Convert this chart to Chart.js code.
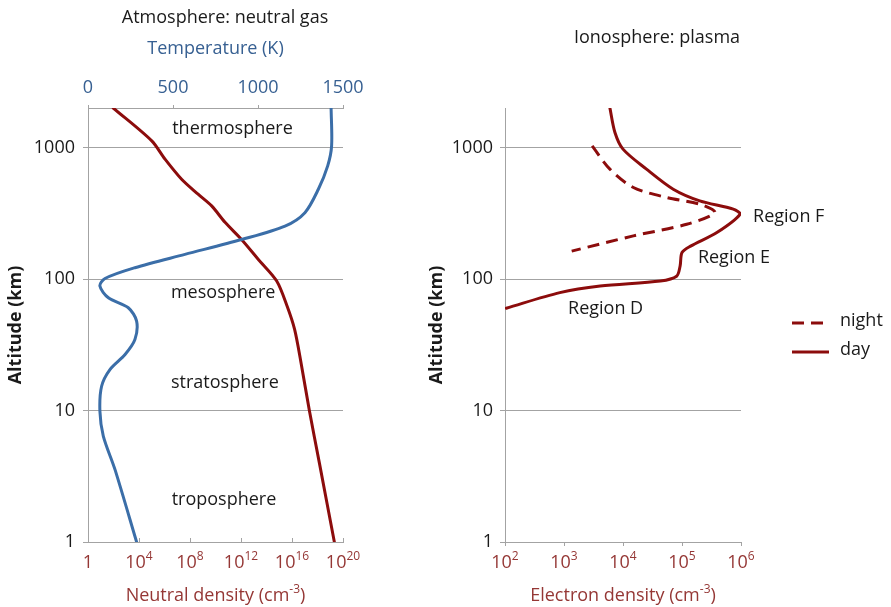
<!DOCTYPE html>
<html>
<head>
<meta charset="utf-8">
<title>Atmosphere and ionosphere profiles</title>
<script src="https://cdn.jsdelivr.net/npm/chart.js@4.4.0/dist/chart.umd.min.js"></script>
<style>
  html, body { margin: 0; padding: 0; background: #ffffff; }
  #wrap { position: relative; width: 891px; height: 607px; overflow: hidden; }
  canvas { position: absolute; top: 0; }
  #atmo { left: 0; }
  #iono { left: 420px; }
</style>
</head>
<body>
<div id="wrap">
  <canvas id="atmo" width="420" height="607"></canvas>
  <canvas id="iono" width="471" height="607"></canvas>
</div>
<script>
// ---- data ----
const altitudeTicks = [1, 10, 100, 1000];
const temperatureTicks = [0, 500, 1000, 1500];
const densityTicks = [1, 1e4, 1e8, 1e12, 1e16, 1e20];
const electronTicks = [1e2, 1e3, 1e4, 1e5, 1e6];

// temperature profile (K) vs altitude (km)
const tempAltitude = [2000, 1030, 726, 482, 320, 253, 200, 154, 122, 101, 88.5, 72, 60.5, 47.9, 34.7, 26.7, 20.5, 15.3, 9.9, 6.4, 3.55, 1];
const temperature  = [1430, 1433, 1410, 1355, 1276, 1159, 904, 570, 276, 100, 70, 120, 237, 286, 276, 218, 129, 80, 70, 90, 159, 286];

// neutral density (cm^-3) vs altitude (km)
const neutralAltitude = [2000, 1125, 816, 574, 442, 360, 270, 200, 141, 96.6, 62.3, 41.4, 23.1, 10, 4.0, 1];
const neutralDensity  = [9.5e1, 1.0e5, 1.1e6, 2.2e7, 4.3e8, 5.0e9, 5.6e10, 1.1e12, 2.3e13, 6.3e14, 4.1e15, 1.6e16, 5.1e16, 2.3e17, 1.4e18, 2.1e19];

// electron density (cm^-3) vs altitude (km), day and night
const dayAltitude = [2000, 1303, 973, 685, 482, 393, 340, 311, 226, 178, 159, 126, 105, 96.6, 88.5, 78.8, 60];
const dayDensity  = [6.0e3, 7.3e3, 1.0e4, 2.5e4, 7.1e4, 2.0e5, 7.4e5, 9.6e5, 3.9e5, 1.4e5, 1.0e5, 9.3e4, 8.1e4, 4.3e4, 4.1e3, 8.5e2, 1.05e2];
const nightAltitude = [1030, 685, 497, 417, 371, 320, 261, 213, 163];
const nightDensity  = [3.0e3, 6.0e3, 1.5e4, 5.5e4, 2.0e5, 3.6e5, 1.2e5, 1.5e4, 1.35e3];

const layerNames  = ['thermosphere', 'mesosphere', 'stratosphere', 'troposphere'];
const regionNames = ['Region F', 'Region E', 'Region D'];

// ---- style ----
const FONT = "'Open Sans', sans-serif";
const SIZE = 18;
const RED = '#8c0c0c';
const BLUE = '#3b6ea8';
const RED_TEXT = '#953735';
const BLUE_TEXT = '#376092';
const GRID = '#a3a3a3';
const INK = '#1a1a1a';

const points = (alts, vals) => alts.map((a, i) => ({ x: vals[i], y: a }));

function drawSupText(ctx, cx, cy, base, sup, tail, color) {
  const mainFont = `${SIZE}px ${FONT}`;
  const supFont = `${Math.round(SIZE * 0.66)}px ${FONT}`;
  ctx.font = mainFont;
  const wb = ctx.measureText(base).width;
  const wt = tail ? ctx.measureText(tail).width : 0;
  ctx.font = supFont;
  const ws = sup ? ctx.measureText(sup).width : 0;
  let x = cx - (wb + ws + wt) / 2;
  ctx.fillStyle = color;
  ctx.textAlign = 'left';
  ctx.textBaseline = 'middle';
  ctx.font = mainFont;
  ctx.fillText(base, x, cy);
  x += wb;
  if (sup) {
    ctx.font = supFont;
    ctx.fillText(sup, x, cy - SIZE * 0.36);
    x += ws;
    ctx.font = mainFont;
  }
  if (tail) ctx.fillText(tail, x, cy);
}

// power-of-ten labels and title under the logarithmic density axis
const powerAxis = {
  id: 'powerAxis',
  afterDraw(chart, args, o) {
    const s = chart.scales.x;
    const ctx = chart.ctx;
    ctx.save();
    s.ticks.forEach(t => {
      const px = s.getPixelForValue(t.value);
      const e = Math.round(Math.log10(t.value));
      if (e === 0) drawSupText(ctx, px, o.labelY, '1', '', '', o.color);
      else drawSupText(ctx, px, o.labelY, '10', String(e), '', o.color);
      if (o.innerTicks) {
        ctx.strokeStyle = GRID;
        ctx.lineWidth = 1;
        ctx.beginPath();
        ctx.moveTo(Math.round(px) + 0.5, s.top);
        ctx.lineTo(Math.round(px) + 0.5, s.top - 4);
        ctx.stroke();
      }
    });
    const c = (chart.chartArea.left + chart.chartArea.right) / 2;
    drawSupText(ctx, c, o.titleY, o.title, '-3', ')', o.color);
    ctx.restore();
  }
};

// free text: chart titles, layer / region names, legend
const notes = {
  id: 'notes',
  afterDatasetsDraw(chart, args, o) {
    const ctx = chart.ctx;
    ctx.save();
    ctx.font = `${SIZE}px ${FONT}`;
    ctx.fillStyle = INK;
    ctx.textBaseline = 'middle';
    if (o.title) {
      ctx.textAlign = 'center';
      ctx.fillText(o.title.text, o.title.x, o.title.y);
    }
    (o.labels || []).forEach(l => {
      const xs = chart.scales[l.xAxis];
      const ys = chart.scales.y;
      ctx.textAlign = l.align;
      ctx.fillText(l.text, xs.getPixelForValue(l.x), ys.getPixelForValue(l.y));
    });
    if (o.legend) {
      const L = o.legend;
      chart.data.datasets.forEach((ds, i) => {
        const y = L.y + i * L.step;
        ctx.strokeStyle = ds.borderColor;
        ctx.lineWidth = ds.borderWidth;
        ctx.setLineDash(ds.borderDash || []);
        ctx.lineCap = 'butt';
        ctx.beginPath();
        ctx.moveTo(L.x, y + 2);
        ctx.lineTo(L.x + L.len, y + 2);
        ctx.stroke();
        ctx.setLineDash([]);
        ctx.textAlign = 'left';
        ctx.fillStyle = INK;
        ctx.fillText(ds.label, L.x + L.len + 11, y);
      });
    }
    ctx.restore();
  }
};

function altitudeAxis(width, labelPad, titlePad) {
  return {
    type: 'logarithmic',
    position: 'left',
    min: 1,
    max: 2000,
    afterBuildTicks: s => { s.ticks = altitudeTicks.map(v => ({ value: v })); },
    afterFit: s => { s.width = width; },
    ticks: {
      callback: v => String(v),
      color: INK,
      font: { family: FONT, size: SIZE },
      padding: labelPad
    },
    grid: { color: GRID, lineWidth: 1, tickLength: 5 },
    border: { color: GRID, width: 1 },
    title: {
      display: true,
      text: 'Altitude (km)',
      color: INK,
      font: { family: FONT, size: SIZE, weight: 'bold' },
      padding: { top: titlePad, bottom: 0 }
    }
  };
}

const lineStyle = { borderWidth: 3, pointRadius: 0, tension: 0.3, fill: false };

// ---- neutral atmosphere ----
new Chart(document.getElementById('atmo'), {
  type: 'line',
  data: {
    datasets: [
      Object.assign({
        label: 'Temperature',
        data: points(tempAltitude, temperature),
        xAxisID: 'x2', yAxisID: 'y',
        borderColor: BLUE, borderCapStyle: 'round'
      }, lineStyle),
      Object.assign({
        label: 'Neutral density',
        data: points(neutralAltitude, neutralDensity),
        xAxisID: 'x', yAxisID: 'y',
        borderColor: RED, borderCapStyle: 'round'
      }, lineStyle)
    ]
  },
  options: {
    responsive: false,
    animation: false,
    layout: { padding: { top: 0, right: 77, bottom: 0, left: 0 } },
    plugins: {
      legend: { display: false },
      tooltip: { enabled: false },
      powerAxis: { labelY: 563, titleY: 596, title: 'Neutral density (cm', color: RED_TEXT, innerTicks: true },
      notes: {
        title: { text: 'Atmosphere: neutral gas', x: 225, y: 18 },
        labels: [
          { text: layerNames[0], xAxis: 'x2', x: 850, y: 1380, align: 'center' },
          { text: layerNames[1], xAxis: 'x2', x: 795, y: 79, align: 'center' },
          { text: layerNames[2], xAxis: 'x2', x: 805, y: 16.3, align: 'center' },
          { text: layerNames[3], xAxis: 'x2', x: 800, y: 2.1, align: 'center' }
        ]
      }
    },
    scales: {
      x: {
        type: 'logarithmic',
        position: 'bottom',
        min: 1,
        max: 1e20,
        afterBuildTicks: s => { s.ticks = densityTicks.map(v => ({ value: v })); },
        afterFit: s => { s.height = 65; },
        ticks: { display: false },
        grid: { display: false },
        border: { color: GRID, width: 1 }
      },
      x2: {
        type: 'linear',
        position: 'top',
        min: 0,
        max: 1500,
        afterBuildTicks: s => { s.ticks = temperatureTicks.map(v => ({ value: v })); },
        afterFit: s => { s.height = 108; },
        ticks: {
          callback: v => String(v),
          color: BLUE_TEXT,
          font: { family: FONT, size: SIZE },
          padding: 6
        },
        grid: { drawOnChartArea: false, tickLength: 3, color: GRID },
        border: { color: GRID, width: 1 },
        title: {
          display: true,
          text: 'Temperature (K)',
          color: BLUE_TEXT,
          font: { family: FONT, size: SIZE },
          padding: { top: 38, bottom: 0 }
        }
      },
      y: altitudeAxis(88, 8, 5)
    }
  },
  plugins: [powerAxis, notes]
});

// ---- ionosphere ----
new Chart(document.getElementById('iono'), {
  type: 'line',
  data: {
    datasets: [
      Object.assign({
        label: 'night',
        data: points(nightAltitude, nightDensity),
        borderColor: RED, borderDash: [12, 7], borderCapStyle: 'butt'
      }, lineStyle),
      Object.assign({
        label: 'day',
        data: points(dayAltitude, dayDensity),
        borderColor: RED, borderCapStyle: 'round'
      }, lineStyle)
    ]
  },
  options: {
    responsive: false,
    animation: false,
    layout: { padding: { top: 108, right: 150, bottom: 0, left: 0 } },
    plugins: {
      legend: { display: false },
      tooltip: { enabled: false },
      powerAxis: { labelY: 563, titleY: 596, title: 'Electron density (cm', color: RED_TEXT, innerTicks: false },
      notes: {
        title: { text: 'Ionosphere: plasma', x: 237, y: 38 },
        labels: [
          { text: regionNames[0], xAxis: 'x', x: 1.6e6, y: 295, align: 'left' },
          { text: regionNames[1], xAxis: 'x', x: 1.86e5, y: 146, align: 'left' },
          { text: regionNames[2], xAxis: 'x', x: 1.17e3, y: 58.8, align: 'left' }
        ],
        legend: { x: 372, y: 321, step: 29, len: 37 }
      }
    },
    scales: {
      x: {
        type: 'logarithmic',
        position: 'bottom',
        min: 1e2,
        max: 1e6,
        afterBuildTicks: s => { s.ticks = electronTicks.map(v => ({ value: v })); },
        afterFit: s => { s.height = 65; },
        ticks: { display: false },
        grid: { drawOnChartArea: false, tickLength: 4, color: GRID },
        border: { color: GRID, width: 1 }
      },
      y: altitudeAxis(85, 7, 6)
    }
  },
  plugins: [powerAxis, notes]
});
</script>
</body>
</html>
